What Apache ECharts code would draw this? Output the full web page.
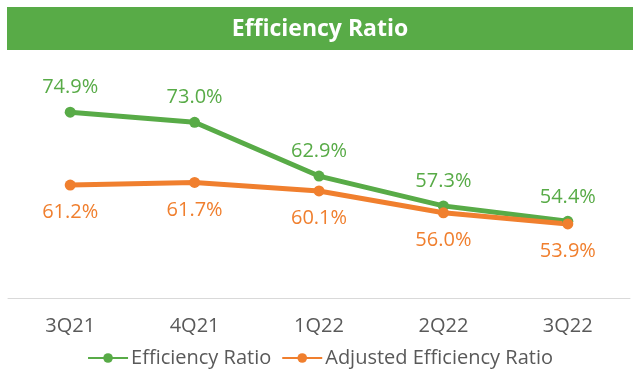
<!DOCTYPE html>
<html>
<head>
<meta charset="utf-8">
<script src="https://cdn.jsdelivr.net/npm/echarts@6/dist/echarts.min.js"></script>
<style>
  html, body { margin: 0; padding: 0; background: #fff; }
  #chart { width: 640px; height: 376px; }
</style>
</head>
<body>
<div id="chart"></div>
<script>
const quarters = ['3Q21', '4Q21', '1Q22', '2Q22', '3Q22'];
const efficiencyRatio = [74.9, 73.0, 62.9, 57.3, 54.4];
const adjustedEfficiencyRatio = [61.2, 61.7, 60.1, 56.0, 53.9];

const GREEN = '#58AB47';
const ORANGE = '#F07F2E';
const FONT = '"Open Sans", "Noto Sans", sans-serif';

const chart = echarts.init(document.getElementById('chart'));

chart.setOption({
  animation: false,
  backgroundColor: '#fff',
  graphic: [{
    type: 'rect',
    shape: { x: 7, y: 7, width: 626, height: 43 },
    style: { fill: GREEN },
    z: 0,
  }, {
    type: 'text',
    x: 320,
    y: 29,
    style: {
      text: 'Efficiency Ratio',
      fill: '#fff',
      font: 'bold 23px ' + FONT,
      textAlign: 'center',
      textVerticalAlign: 'middle',
    },
    z: 1,
  }],
  grid: { left: 8, right: 10, top: 85, bottom: 78 },
  legend: {
    bottom: 3,
    itemWidth: 40,
    itemHeight: 12,
    itemGap: 10,
    textStyle: { color: '#595959', fontSize: 20, fontFamily: FONT, padding: [0, 0, 0, -2] },
    data: ['Efficiency Ratio', 'Adjusted Efficiency Ratio'],
  },
  xAxis: {
    type: 'category',
    data: quarters,
    axisLine: { lineStyle: { color: '#D9D9D9', width: 1 } },
    axisTick: { show: false },
    axisLabel: { color: '#595959', fontSize: 20, fontFamily: FONT, margin: 18 },
  },
  yAxis: {
    type: 'value',
    min: 40,
    max: 80,
    show: false,
    splitLine: { show: false },
  },
  series: [{
    name: 'Efficiency Ratio',
    type: 'line',
    data: efficiencyRatio,
    color: GREEN,
    symbol: 'circle',
    symbolSize: 11,
    lineStyle: { width: 5, color: GREEN },
    label: {
      show: true,
      position: 'top',
      distance: 9,
      color: GREEN,
      fontSize: 20,
      fontFamily: FONT,
      formatter: (p) => p.value.toFixed(1) + '%',
    },
  }, {
    name: 'Adjusted Efficiency Ratio',
    type: 'line',
    data: adjustedEfficiencyRatio,
    color: ORANGE,
    symbol: 'circle',
    symbolSize: 11,
    lineStyle: { width: 5, color: ORANGE },
    label: {
      show: true,
      position: 'bottom',
      distance: 12,
      color: ORANGE,
      fontSize: 20,
      fontFamily: FONT,
      formatter: (p) => p.value.toFixed(1) + '%',
    },
  }],
});
</script>
</body>
</html>
